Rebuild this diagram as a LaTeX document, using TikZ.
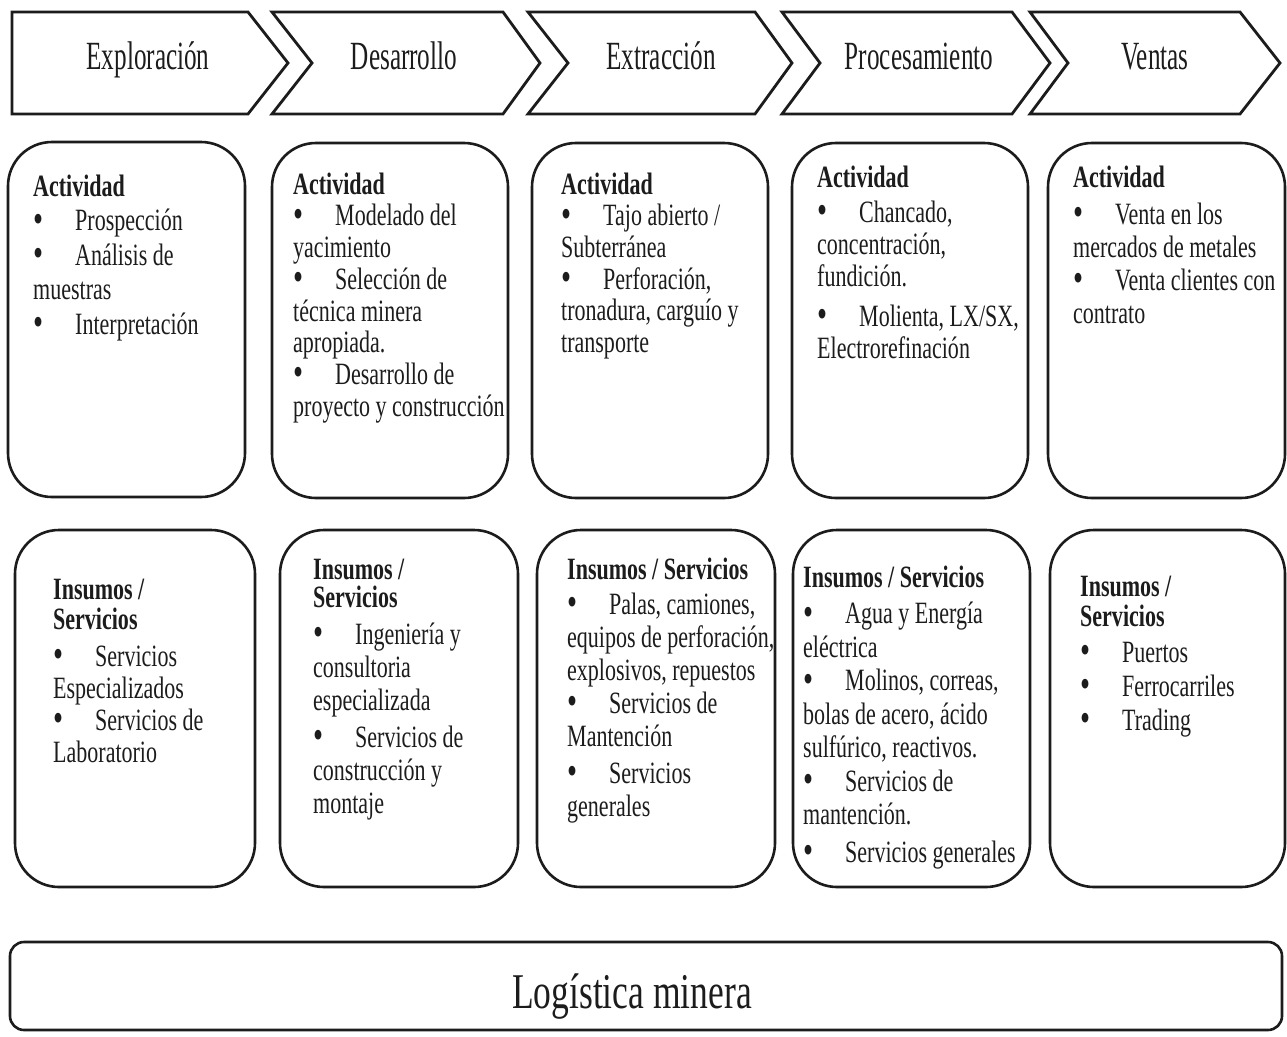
\documentclass[tikz,border=0pt]{standalone}
\usepackage{fontspec}
\setmainfont{Liberation Serif}[FakeStretch=0.71]
\newfontfamily\stagefont{Liberation Serif}[FakeStretch=0.63]
\definecolor{ink}{HTML}{1C1C1C}
\newcommand\bpt{\makebox[42pt][l]{\hspace{0.5pt}\raisebox{-1.5pt}{\scalebox{1.3}{•}}}}
\newcommand\fst{\rule{0pt}{23pt}}
\lineskiplimit=-100pt
\tikzset{
  panel/.style={draw=ink, line width=2.6pt, rounded corners=44pt, fill=white, inner sep=0pt},
  chev/.style={draw=ink, line width=2.8pt, line join=miter, fill=white},
  txt/.style={anchor=north west, inner sep=0pt, align=left, text=ink},
  stage/.style={anchor=base, inner sep=0pt, text=ink, font=\stagefont\fontsize{40}{44}\selectfont},
  bs/.style={font=\fontsize{31}{#1}\selectfont}
}
\begin{document}
\begin{tikzpicture}[x=1pt,y=-1pt]
\useasboundingbox (0,0) rectangle (1287,1036);
\fill[white] (0,0) rectangle (1287,1036);

% value chain stages
\draw[chev] (12,12) -- (248,12) -- (288,63) -- (248,114) -- (12,114) -- cycle;
\draw[chev] (272,12) -- (503,12) -- (540,63) -- (503,114) -- (272,114) -- (312,63) -- cycle;
\draw[chev] (528,12) -- (755,12) -- (792,63) -- (755,114) -- (528,114) -- (568,63) -- cycle;
\draw[chev] (782,12) -- (1012,12) -- (1050,63) -- (1012,114) -- (782,114) -- (820,63) -- cycle;
\draw[chev] (1030,12) -- (1240,12) -- (1280,63) -- (1240,114) -- (1030,114) -- (1068,63) -- cycle;
\node[stage] (s1) at (148,69) {Exploración};
\node[stage] (s2) at (404,69) {Desarrollo};
\node[stage] (s3) at (661,69) {Extracción};
\node[stage] (s4) at (919,69) {Procesamiento};
\node[stage] (s5) at (1155,69) {Ventas};

% activity panels
\node[panel, minimum width=237pt, minimum height=355pt] (a1) at (126.5,319.5) {};
\node[panel, minimum width=236pt, minimum height=355pt] (a2) at (390,320.5) {};
\node[panel, minimum width=236pt, minimum height=355pt] (a3) at (650,320.5) {};
\node[panel, minimum width=236pt, minimum height=355pt] (a4) at (910,320.5) {};
\node[panel, minimum width=237pt, minimum height=355pt] (a5) at (1166.5,320.5) {};

\node[txt, bs=34.5] (a1t) at (33,173) {\fst\textbf{Actividad}\\
\bpt Prospección\\
\bpt Análisis de\\
muestras\\
\bpt Interpretación};

\node[txt, bs=31.7] (a2t) at (293,171) {\fst\textbf{Actividad}\\
\bpt Modelado del\\
yacimiento\\
\bpt Selección de\\
técnica minera\\
apropiada.\\
\bpt Desarrollo de\\
proyecto y construcción};

\node[txt, bs=31.6] (a3t) at (561,171) {\fst\textbf{Actividad}\\
\bpt Tajo abierto /\\
Subterránea\\
\bpt Perforación,\\
tronadura, carguío y\\
transporte};

\node[txt, bs=32] (a4t) at (817,164) {\fst\textbf{Actividad}\\[3pt]
\bpt Chancado,\\
concentración,\\
fundición.\\[8pt]
\bpt Molienta, LX/SX,\\
Electrorefinación};

\node[txt, bs=33] (a5t) at (1073,164) {\fst\textbf{Actividad}\\[4pt]
\bpt Venta en los\\
mercados de metales\\
\bpt Venta clientes con\\
contrato};

% supply and service panels
\node[panel, minimum width=240pt, minimum height=357pt] (b1) at (135,708.5) {};
\node[panel, minimum width=238pt, minimum height=357pt] (b2) at (399,708.5) {};
\node[panel, minimum width=238pt, minimum height=357pt] (b3) at (656,708.5) {};
\node[panel, minimum width=237pt, minimum height=357pt] (b4) at (911.5,708.5) {};
\node[panel, minimum width=235pt, minimum height=357pt] (b5) at (1167.5,708.5) {};

\node[txt, bs=32] (b1t) at (53,576) {\fst\textbf{Insumos /}\\[-2pt]
\textbf{Servicios}\\[5pt]
\bpt Servicios\\
Especializados\\
\bpt Servicios de\\
Laboratorio};

\node[txt, bs=33] (b2t) at (313,556) {\fst\textbf{Insumos /}\\[-5pt]
\textbf{Servicios}\\[4pt]
\bpt Ingeniería y\\
consultoria\\
especializada\\[4pt]
\bpt Servicios de\\
construcción y\\
montaje};

\node[txt, bs=33] (b3t) at (567,556) {\fst\textbf{Insumos / Servicios}\\[2pt]
\bpt Palas, camiones,\\
equipos de perforación,\\
explosivos, repuestos\\
\bpt Servicios de\\
Mantención\\[4pt]
\bpt Servicios\\
generales};

\node[txt, bs=33.5] (b4t) at (803,564) {\fst\textbf{Insumos / Servicios}\\[3pt]
\bpt Agua y Energía\\
eléctrica\\
\bpt Molinos, correas,\\
bolas de acero, ácido\\
sulfúrico, reactivos.\\
\bpt Servicios de\\
mantención.\\[4pt]
\bpt Servicios generales};

\node[txt, bs=34] (b5t) at (1080,573) {\fst\textbf{Insumos /}\\[-4pt]
\textbf{Servicios}\\[2pt]
\bpt Puertos\\
\bpt Ferrocarriles\\
\bpt Trading};

% logistics bar
\node[draw=ink, line width=2.6pt, rounded corners=14pt, minimum width=1272pt, minimum height=88pt, inner sep=0pt] (lg) at (646,986) {};
\node[anchor=base, inner sep=0pt, text=ink, font=\fontsize{50}{54}\selectfont] (lgt) at (632,1008) {Logística minera};
\end{tikzpicture}
\end{document}
